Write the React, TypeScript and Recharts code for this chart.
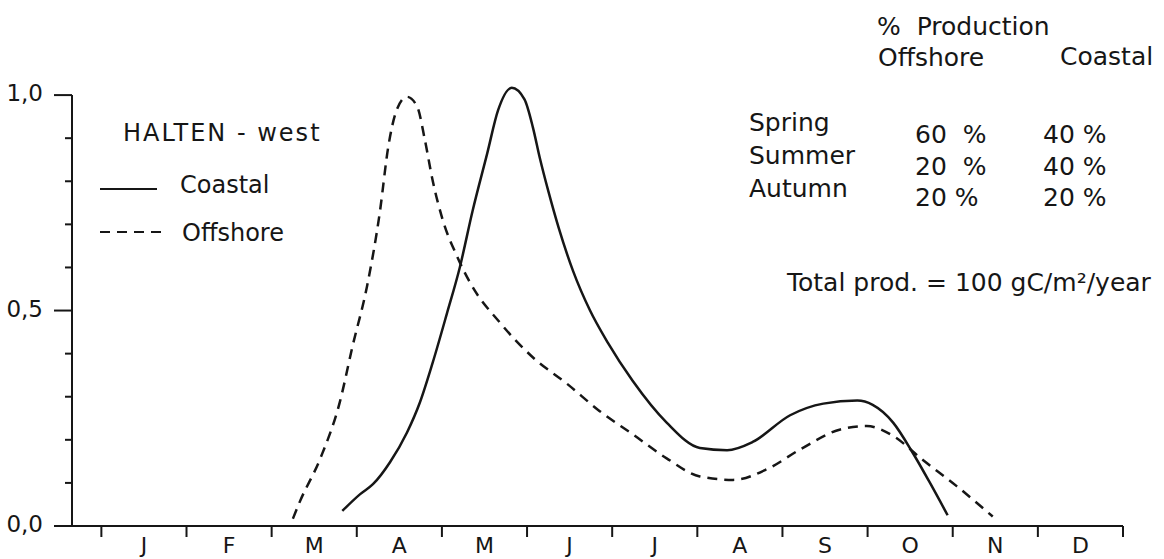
import { LineChart, Line, XAxis, YAxis, ReferenceLine } from 'recharts';

const INK = '#161616';
const FONT = '"DejaVu Sans", "Liberation Sans", sans-serif';

// months: tick marks at month edges, letters in the middle of each month
const monthLabels = ['J', 'F', 'M', 'A', 'M', 'J', 'J', 'A', 'S', 'O', 'N', 'D'];
const monthEdges = [0, 1, 2, 3, 4, 5, 6, 7, 8, 9, 10, 11, 12];
const monthMids = [0.5, 1.5, 2.5, 3.5, 4.5, 5.5, 6.5, 7.5, 8.5, 9.5, 10.5, 11.5];
const X_MIN = -0.345;

const yTicks = [0, 0.1, 0.2, 0.3, 0.4, 0.5, 0.6, 0.7, 0.8, 0.9, 1.0];
const yMajor = [0, 0.5, 1.0];

// relative production, m = months since 1 Jan
const coastal = [
  { m: 2.83, v: 0.035 }, { m: 3.04, v: 0.074 }, { m: 3.19, v: 0.097 }, { m: 3.39, v: 0.148 },
  { m: 3.59, v: 0.217 }, { m: 3.74, v: 0.286 }, { m: 3.89, v: 0.378 }, { m: 4.06, v: 0.494 },
  { m: 4.21, v: 0.6 }, { m: 4.36, v: 0.731 }, { m: 4.53, v: 0.863 }, { m: 4.66, v: 0.965 },
  { m: 4.82, v: 1.017 }, { m: 4.97, v: 0.99 }, { m: 5.07, v: 0.924 }, { m: 5.15, v: 0.854 },
  { m: 5.25, v: 0.777 }, { m: 5.37, v: 0.693 }, { m: 5.54, v: 0.592 }, { m: 5.74, v: 0.5 },
  { m: 5.95, v: 0.425 }, { m: 6.24, v: 0.337 }, { m: 6.64, v: 0.24 }, { m: 7.03, v: 0.181 },
  { m: 7.35, v: 0.176 }, { m: 7.65, v: 0.195 }, { m: 8.09, v: 0.257 }, { m: 8.48, v: 0.284 },
  { m: 8.88, v: 0.291 }, { m: 9.06, v: 0.281 }, { m: 9.3, v: 0.24 }, { m: 9.53, v: 0.17 },
  { m: 9.73, v: 0.101 }, { m: 9.94, v: 0.025 },
];

const offshore = [
  { m: 2.25, v: 0.017 }, { m: 2.33, v: 0.056 }, { m: 2.57, v: 0.156 }, { m: 2.8, v: 0.287 },
  { m: 2.95, v: 0.417 }, { m: 3.12, v: 0.556 }, { m: 3.27, v: 0.727 }, { m: 3.37, v: 0.88 },
  { m: 3.47, v: 0.966 }, { m: 3.59, v: 0.996 }, { m: 3.71, v: 0.973 }, { m: 3.8, v: 0.896 },
  { m: 3.89, v: 0.803 }, { m: 4.01, v: 0.71 }, { m: 4.18, v: 0.625 }, { m: 4.33, v: 0.565 },
  { m: 4.69, v: 0.47 }, { m: 5.07, v: 0.391 }, { m: 5.47, v: 0.33 }, { m: 5.85, v: 0.267 },
  { m: 6.24, v: 0.213 }, { m: 6.64, v: 0.157 }, { m: 7.03, v: 0.115 }, { m: 7.42, v: 0.107 },
  { m: 7.82, v: 0.132 }, { m: 8.21, v: 0.178 }, { m: 8.68, v: 0.224 }, { m: 8.99, v: 0.232 },
  { m: 9.3, v: 0.209 }, { m: 9.65, v: 0.153 }, { m: 10.05, v: 0.092 }, { m: 10.47, v: 0.022 },
];

// "% Production" table
const seasons = ['Spring', 'Summer', 'Autumn'];
const offshoreShare = ['60  %', '20  %', '20 %'];
const coastalShare = ['40 %', '40 %', '20 %'];

function YTick(props: any) {
  const { x, y, payload } = props;
  const v = payload.value;
  const major = yMajor.some((t) => Math.abs(t - v) < 1e-6);
  return (
    <g>
      <line x1={x - (major ? 18 : 7)} x2={x} y1={y} y2={y} stroke={INK} strokeWidth={2} />
      {major && (
        <text x={x - 29} y={y + 6} textAnchor="end" fontSize={23} fill={INK} fontFamily={FONT}>
          {v.toFixed(1).replace('.', ',')}
        </text>
      )}
    </g>
  );
}

function Notes() {
  const txt = { fontFamily: FONT, fill: INK } as const;
  return (
    <svg width={1164} height={559} style={{ position: 'absolute', left: 0, top: 0, pointerEvents: 'none' }}>
      <text x={123} y={141} fontSize={24} letterSpacing={2} {...txt}>HALTEN - west</text>
      <line x1={100} x2={157} y1={189} y2={189} stroke={INK} strokeWidth={2} />
      <text x={180} y={193} fontSize={24} {...txt}>Coastal</text>
      <line x1={100} x2={162} y1={232} y2={232} stroke={INK} strokeWidth={2} strokeDasharray="10 7" />
      <text x={182} y={241} fontSize={24} {...txt}>Offshore</text>

      <text x={877} y={35} fontSize={25} {...txt} style={{ whiteSpace: 'pre' }}>%  Production</text>
      <text x={878} y={66} fontSize={25} {...txt}>Offshore</text>
      <text x={1060} y={65} fontSize={25} {...txt}>Coastal</text>
      {seasons.map((s, i) => (
        <text key={s} x={749} y={[131, 164, 197][i]} fontSize={25} {...txt}>{s}</text>
      ))}
      {offshoreShare.map((s, i) => (
        <text key={'o' + i} x={915} y={[143, 175, 206][i]} fontSize={25} {...txt} style={{ whiteSpace: 'pre' }}>{s}</text>
      ))}
      {coastalShare.map((s, i) => (
        <text key={'c' + i} x={1043} y={[143, 175, 206][i]} fontSize={25} {...txt}>{s}</text>
      ))}
      <text x={787} y={291} fontSize={25} {...txt}>Total prod. = 100 gC/m²/year</text>
    </svg>
  );
}

export default function App() {
  return (
    <div style={{ position: 'relative', width: 1164, height: 559, background: '#fff' }}>
      <style>{'body{margin:0}'}</style>
      <LineChart width={1164} height={559} margin={{ top: 52, right: 41, bottom: 0, left: 0 }}>
        <XAxis
          xAxisId="axis"
          dataKey="m"
          type="number"
          domain={[X_MIN, 12]}
          ticks={monthEdges}
          interval={0}
          tickFormatter={() => ''}
          tickSize={11}
          height={11}
          axisLine={{ stroke: INK, strokeWidth: 2 }}
          tickLine={{ stroke: INK, strokeWidth: 2 }}
          allowDataOverflow
        />
        <XAxis
          xAxisId="labels"
          dataKey="m"
          type="number"
          domain={[X_MIN, 12]}
          ticks={monthMids}
          interval={0}
          tickFormatter={(v: number) => monthLabels[Math.floor(v)]}
          tick={{ fontSize: 22, fill: INK, fontFamily: FONT }}
          tickSize={0}
          tickMargin={0}
          height={22}
          axisLine={false}
          tickLine={false}
          allowDataOverflow
        />
        <YAxis
          yAxisId="y"
          type="number"
          domain={[0, 1.1]}
          ticks={yTicks}
          interval={0}
          width={72}
          tickSize={0}
          tickMargin={0}
          axisLine={false}
          tickLine={false}
          tick={(p: any) => <YTick {...p} />}
        />
        <ReferenceLine
          xAxisId="axis"
          yAxisId="y"
          segment={[{ x: X_MIN, y: 0 }, { x: X_MIN, y: 1 }]}
          stroke={INK}
          strokeWidth={2}
        />
        <Line
          xAxisId="axis"
          yAxisId="y"
          data={coastal}
          dataKey="v"
          name="Coastal"
          type="monotone"
          stroke={INK}
          strokeWidth={2.5}
          dot={false}
          isAnimationActive={false}
        />
        <Line
          xAxisId="axis"
          yAxisId="y"
          data={offshore}
          dataKey="v"
          name="Offshore"
          type="monotone"
          stroke={INK}
          strokeWidth={2.5}
          strokeDasharray="10 7"
          dot={false}
          isAnimationActive={false}
        />
      </LineChart>
      <Notes />
    </div>
  );
}
